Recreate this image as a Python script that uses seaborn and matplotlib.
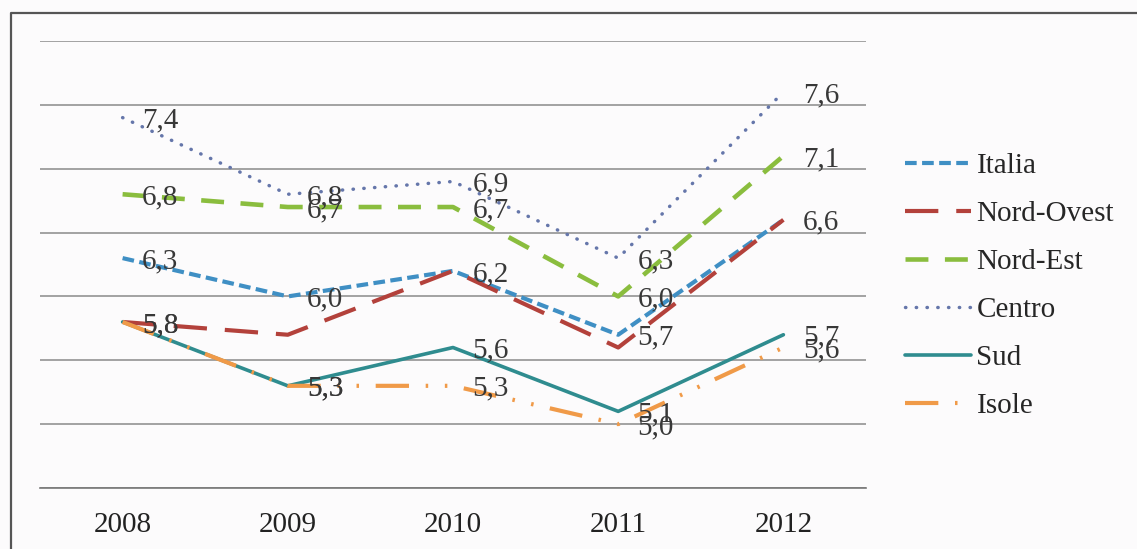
import matplotlib
matplotlib.use("Agg")
import matplotlib.pyplot as plt
from matplotlib.lines import Line2D
import seaborn as sns
import pandas as pd
import numpy as np

years = ["2008", "2009", "2010", "2011", "2012"]
italia = [6.3, 6.0, 6.2, 5.7, 6.6]
nord_ovest = [5.8, 5.7, 6.2, 5.6, 6.6]
nord_est = [6.8, 6.7, 6.7, 6.0, 7.1]
centro = [7.4, 6.8, 6.9, 6.3, 7.6]
sud = [5.8, 5.3, 5.6, 5.1, 5.7]
isole = [5.8, 5.3, 5.3, 5.0, 5.6]

series = [
    ("Italia", italia, "#3f8fc4", (2.8, 1.3), 3.0, True),
    ("Nord-Ovest", nord_ovest, "#b3413b", (8, 4.3), 3.0, False),
    ("Nord-Est", nord_est, "#8abd3e", (5, 3.6), 3.3, True),
    ("Centro", centro, "#6576aa", (0.1, 3.0), 2.5, True),
    ("Sud", sud, "#2f8c8f", None, 2.6, True),
    ("Isole", isole, "#f09a48", (8, 4, 0.6, 4, 0.6, 4), 3.0, True),
]

sns.set_theme(style="white")
plt.rcParams["font.family"] = ["Liberation Serif", "DejaVu Serif"]

FS = 21
bg = "#fcfbfc"
fig = plt.figure(figsize=(11.37, 5.49), dpi=100, facecolor=bg)
ax = fig.add_axes([40/1137, 1-488/549, (866-40)/1137, (488-41)/549])
ax.set_facecolor(bg)

x = np.arange(len(years))
handles = []
for name, vals, color, dash, lw, lab in series:
    df = pd.DataFrame({"x": x, "v": vals})
    sns.lineplot(data=df, x="x", y="v", ax=ax, color=color, lw=lw, legend=False)
    line = ax.lines[-1]
    line.set_linestyle("-" if dash is None else (0, dash))
    line.set_dash_capstyle("round" if name == "Centro" else "butt")
    h = Line2D([], [], color=color, lw=lw,
               linestyle="-" if dash is None else (0, dash),
               dash_capstyle="round" if name == "Centro" else "butt")
    handles.append(h)
    if lab:
        for xi, v in zip(x, vals):
            ax.annotate(f"{v:.1f}".replace(".", ","), (xi, v), xytext=(14, 0),
                        textcoords="offset points", ha="left",
                        va="center_baseline",
                        fontsize=FS, color="#383838")

ax.set_xlim(-0.5, 4.5)
ax.set_ylim(4.5, 8.0)
ax.set_yticks(np.arange(4.5, 8.01, 0.5))
ax.set_yticklabels([])
ax.tick_params(axis="y", length=0)
ax.yaxis.grid(True, color="#8a8a8a", lw=1.1)
ax.set_axisbelow(True)
ax.set_xticks(x)
ax.set_xticklabels(years, fontsize=FS, color="#222222")
ax.set_xticks(np.arange(-0.5, 4.51, 1), minor=True)
ax.tick_params(axis="x", which="major", length=0, pad=17)
ax.tick_params(axis="x", which="minor", length=8, width=1, color="#777777", direction="out")
ax.set_xlabel("")
ax.set_ylabel("")
for s in ["top", "right", "left"]:
    ax.spines[s].set_visible(False)
ax.spines["bottom"].set_color("#777777")
ax.spines["bottom"].set_linewidth(1.2)

fig.legend(handles, [s[0] for s in series], loc="upper left",
           bbox_to_anchor=(905/1137, 1-153/549), frameon=False,
           fontsize=FS, handlelength=2.25, handletextpad=0.2,
           labelspacing=0.74, borderpad=0, borderaxespad=0)

fig.add_artist(Line2D([11/1137, 11/1137, 1.0], [0, 1-13/549, 1-13/549],
                      transform=fig.transFigure, color="#555555", lw=1.6))

fig.savefig("out.png", dpi=100, facecolor=bg)
